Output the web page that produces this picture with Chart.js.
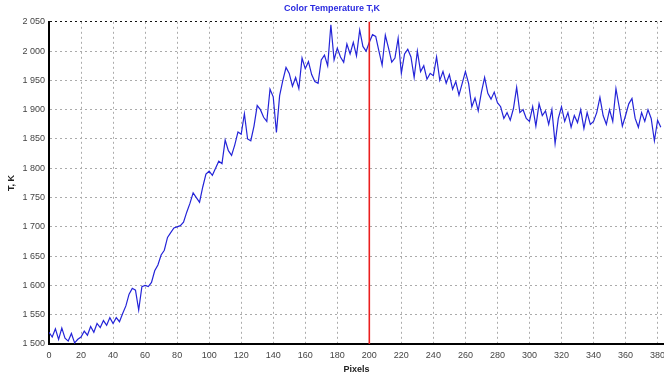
<!DOCTYPE html>
<html lang="en">
<head>
  <meta charset="UTF-8">
  <title>Color Temperature T,K</title>
  <script src="https://cdn.jsdelivr.net/npm/chart.js"></script>
  <style>
    html, body { margin: 0; padding: 0; background: #fff; }
    #wrap { width: 664px; height: 376px; }
  </style>
</head>
<body>
  <div id="wrap"><canvas id="tempChart" width="664" height="376"></canvas></div>
  <script>
    // Colour temperature profile along the scan line, one sample every 2 pixels
    const pixelStep = 2;
    const temperature = [
      1520, 1512, 1526, 1508, 1527, 1510, 1505, 1518, 1502, 1508,
      1512, 1522, 1515, 1530, 1520, 1535, 1528, 1540, 1532, 1545,
      1535, 1545, 1538, 1552, 1565, 1585, 1595, 1592, 1558, 1598,
      1600, 1598, 1605, 1625, 1635, 1652, 1660, 1682, 1690, 1698,
      1700, 1702, 1708, 1725, 1740, 1758, 1750, 1742, 1768, 1790,
      1795, 1788, 1800, 1812, 1808, 1848, 1830, 1822, 1840, 1862,
      1858, 1893, 1850, 1847, 1872, 1907, 1900, 1887, 1880, 1935,
      1922, 1861, 1924, 1950, 1972, 1962, 1940, 1955, 1936, 1988,
      1970, 1982, 1960, 1948, 1945, 1985, 1993, 1975, 2045, 1985,
      2005, 1990, 1981, 2012, 1995, 2015, 1992, 2036, 2008, 2000,
      2015, 2028, 2025, 2000, 1976, 2027, 2005, 1981, 1988, 2022,
      1962, 1995, 2003, 1990, 1955, 2000, 1965, 1975, 1952, 1962,
      1958, 1990, 1950, 1965, 1945, 1960, 1935, 1948, 1925, 1945,
      1965, 1945, 1905, 1920, 1898, 1930, 1955, 1928, 1918, 1930,
      1912, 1905, 1885, 1895, 1882, 1902, 1938, 1895, 1900, 1885,
      1880, 1905, 1872, 1910, 1890, 1898, 1875, 1900, 1842, 1885,
      1905, 1880, 1895, 1870, 1890, 1878, 1900, 1868, 1895, 1875,
      1880, 1895, 1921, 1890, 1875, 1900, 1880, 1936, 1905, 1872,
      1890, 1910, 1919, 1885, 1870, 1895, 1880, 1900, 1885, 1847,
      1882, 1870
    ];
    const markerPixel = 200;
    const yMin = 1500, yMax = 2050, yStep = 50;
    const xMax = 384, xStep = 20;

    const points = temperature.map((t, i) => ({ x: i * pixelStep, y: t }));

    const fmt = v => String(v).replace(/\B(?=(\d{3})+(?!\d))/g, ' ');
    const narrow = 'Liberation Sans Narrow, Arial, sans-serif';
    const tickFont = { family: narrow, size: 9 };
    const labelFont = { family: narrow, size: 9, weight: 'bold' };

    // red cursor line at the selected pixel
    const cursorLine = {
      id: 'cursorLine',
      afterDatasetsDraw(chart) {
        const { ctx, chartArea, scales } = chart;
        const x = scales.x.getPixelForValue(markerPixel);
        ctx.save();
        ctx.strokeStyle = 'rgb(235, 30, 30)';
        ctx.lineWidth = 1.6;
        ctx.setLineDash([]);
        ctx.beginPath();
        ctx.moveTo(x, chartArea.top);
        ctx.lineTo(x, chartArea.bottom);
        ctx.stroke();
        ctx.restore();
      }
    };

    new Chart(document.getElementById('tempChart'), {
      type: 'line',
      data: {
        datasets: [{
          data: points,
          borderColor: '#2424d8',
          borderWidth: 1.2,
          pointRadius: 0,
          tension: 0,
          fill: false
        }]
      },
      options: {
        responsive: false,
        animation: false,
        plugins: {
          legend: { display: false },
          tooltip: { enabled: false },
          title: {
            display: true,
            text: 'Color Temperature T,K',
            color: '#2a2ae0',
            font: labelFont,
            padding: { top: 3, bottom: 8 }
          }
        },
        scales: {
          x: {
            type: 'linear',
            min: 0,
            max: xMax,
            afterFit(scale) { scale.height = 32; scale.paddingRight = 0; },
            ticks: {
              stepSize: xStep,
              includeBounds: false,
              maxRotation: 0,
              autoSkip: false,
              color: '#444',
              font: tickFont,
              padding: 6
            },
            grid: {
              color: ctx => ctx.tick && ctx.tick.value === markerPixel ? 'rgba(0,0,0,0)' : '#ababab',
              drawTicks: false
            },
            border: { color: '#000', width: 2, dash: [2, 3] },
            title: {
              display: true,
              text: 'Pixels',
              color: '#222',
              font: labelFont,
              padding: { top: 0, bottom: 1 }
            }
          },
          y: {
            min: yMin,
            max: yMax,
            afterFit(scale) { scale.width = 49; },
            ticks: {
              stepSize: yStep,
              color: '#444',
              font: tickFont,
              padding: 4,
              callback: v => fmt(v)
            },
            grid: {
              color: ctx => ctx.tick && ctx.tick.value === yMax ? '#111' : '#ababab',
              drawTicks: false
            },
            border: { color: '#000', width: 2, dash: [2, 3] },
            title: {
              display: true,
              text: 'T, K',
              color: '#222',
              font: labelFont,
              padding: { top: 6, bottom: 0 }
            }
          }
        }
      },
      plugins: [cursorLine]
    });
  </script>
</body>
</html>
